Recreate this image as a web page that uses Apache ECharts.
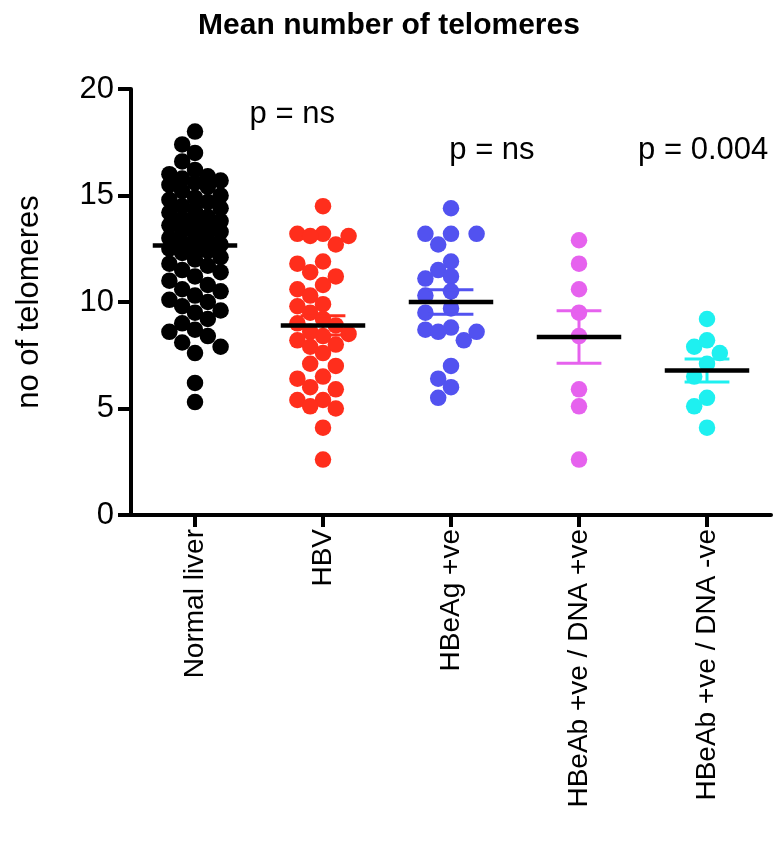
<!DOCTYPE html>
<html>
<head>
<meta charset="utf-8">
<script src="https://cdn.jsdelivr.net/npm/echarts@6/dist/echarts.min.js"></script>
<style>
html,body{margin:0;padding:0;background:#fff;}
#c{width:778px;height:852px;}
</style>
</head>
<body>
<div id="c"></div>
<script>
// ---------- data ----------
const categories = ['Normal liver', 'HBV', 'HBeAg +ve', 'HBeAb +ve / DNA +ve', 'HBeAb +ve / DNA -ve'];
const normalLiver = [18.0, 17.4, 17.0, 16.6, 16.2, 16.0, 15.9, 15.8, 15.7, 15.6, 15.5, 15.4, 15.2, 15.0, 14.9,
  14.8, 14.7, 14.5, 14.4, 14.3, 14.2, 14.0, 13.9, 13.8, 13.7, 13.6, 13.5, 13.4, 13.3, 13.2, 13.0, 12.9, 12.8,
  12.7, 12.6, 12.5, 12.4, 12.3, 12.1, 12.0, 11.8, 11.7, 11.5, 11.4, 11.2, 11.0, 10.8, 10.6, 10.5, 10.3, 10.1,
  10.0, 9.8, 9.6, 9.5, 9.2, 9.0, 8.7, 8.6, 8.4, 8.1, 7.9, 7.6, 6.2, 5.3];
const hbv = [14.5, 13.1, 13.2, 12.7, 13.2, 13.1, 11.9, 11.8, 11.4, 11.2, 10.8, 10.6, 10.3, 9.8, 9.9, 9.5, 9.2,
  9.0, 8.9, 8.6, 8.5, 8.4, 8.2, 8.0, 7.9, 7.6, 7.1, 7.0, 6.5, 6.4, 6.0, 5.9, 5.4, 5.4, 5.0, 5.1, 4.1, 2.6];
const hbeag = [14.4, 13.2, 13.2, 13.2, 12.7, 11.9, 11.5, 11.1, 11.2, 10.5, 10.3, 9.7, 9.5, 8.7, 8.2, 8.6, 8.8,
  8.6, 7.0, 6.4, 6.0, 5.5];
const hbeabDnaPos = [12.9, 11.8, 10.6, 9.5, 8.4, 5.9, 5.1, 2.6];
const hbeabDnaNeg = [9.2, 7.9, 8.2, 7.6, 7.1, 6.5, 5.5, 5.1, 4.1];
const groupMeans = [12.65, 8.9, 10.0, 8.36, 6.78];
const groupSems = [0.3, 0.45, 0.58, 1.23, 0.54];
const groupColors = ['#000000', '#FF2E1C', '#5252F0', '#E662EE', '#1EF0F0'];
const yTicks = [0, 5, 10, 15, 20];
const pLabels = ['p = ns', 'p = ns', 'p = 0.004'];
const pLabelX = [0.76, 2.32, 3.97];
const pLabelY = [18.8, 17.1, 17.1];

const groups = [normalLiver, hbv, hbeag, hbeabDnaPos, hbeabDnaNeg];

// ---------- layout ----------
const W = 778, H = 852;
const grid = { left: 131, right: 7, top: 89, bottom: 337 };
const plotW = W - grid.left - grid.right;
const plotH = H - grid.top - grid.bottom;
const yMax = yTicks[yTicks.length - 1];
const pyPerUnit = plotH / yMax;
const pxPerCat = plotW / categories.length;
const colStep = 12.8, minDist = 14, maxCol = 2;

// simple beeswarm: spread points horizontally (max +-2 columns)
function swarm(values) {
  const order = values.map((v, i) => i).sort((a, b) => values[b] - values[a]);
  const placed = [];
  const offs = new Array(values.length).fill(0);
  const cands = [0];
  for (let k = 1; k <= maxCol; k++) { cands.push(-k, k); }
  order.forEach(i => {
    const y = values[i] * pyPerUnit;
    let best = null, bestD = -1;
    for (const k of cands) {
      const x = k * colStep;
      let d = Infinity;
      placed.forEach(p => { d = Math.min(d, Math.hypot(p[0] - x, p[1] - y)); });
      if (d >= minDist) { best = k; break; }
      if (d > bestD + 0.5) { bestD = d; best = k; }
    }
    placed.push([best * colStep, y]);
    offs[i] = best * colStep / pxPerCat;
  });
  return offs;
}

const FONT = 'Liberation Sans, Arial, sans-serif';

const series = [];
groups.forEach((vals, g) => {
  const offs = swarm(vals);
  series.push({
    type: 'scatter',
    xAxisIndex: 1,
    yAxisIndex: 0,
    symbol: 'circle',
    symbolSize: 16.5,
    itemStyle: { color: groupColors[g], opacity: 1 },
    emphasis: { disabled: true },
    z: 2,
    data: vals.map((v, i) => [g + offs[i], v])
  });
});

series.push({
  type: 'custom',
  xAxisIndex: 1,
  yAxisIndex: 0,
  z: 5,
  data: groupMeans.map((m, g) => [g, m, groupSems[g]]),
  renderItem: function (params, api) {
    const g = api.value(0), m = api.value(1), s = api.value(2);
    const c = api.coord([g, m]);
    const t = api.coord([g, m + s]);
    const b = api.coord([g, m - s]);
    const unit = api.size([1, 0])[0];
    const capHalf = unit * 0.175, meanHalf = unit * 0.33;
    const col = groupColors[g];
    return {
      type: 'group',
      children: [
        { type: 'line', shape: { x1: c[0], y1: t[1], x2: c[0], y2: b[1] }, style: { stroke: col, lineWidth: 3 } },
        { type: 'line', shape: { x1: c[0] - capHalf, y1: t[1], x2: c[0] + capHalf, y2: t[1] }, style: { stroke: col, lineWidth: 3 } },
        { type: 'line', shape: { x1: c[0] - capHalf, y1: b[1], x2: c[0] + capHalf, y2: b[1] }, style: { stroke: col, lineWidth: 3 } },
        { type: 'line', shape: { x1: c[0] - meanHalf, y1: c[1], x2: c[0] + meanHalf, y2: c[1] }, style: { stroke: '#000', lineWidth: 4.5 } }
      ]
    };
  }
});

const chart = echarts.init(document.getElementById('c'), null, { renderer: 'canvas' });
chart.setOption({
  animation: false,
  backgroundColor: '#fff',
  title: {
    text: 'Mean number of telomeres',
    left: 'center',
    top: 6,
    textStyle: { fontSize: 30, fontWeight: 'bold', color: '#000', fontFamily: FONT }
  },
  grid: { left: grid.left, right: grid.right, top: grid.top, bottom: grid.bottom, containLabel: false },
  xAxis: [
    {
      type: 'category',
      data: categories,
      boundaryGap: true,
      axisLine: { show: true, onZero: false, lineStyle: { color: '#000', width: 4 } },
      axisTick: { show: true, alignWithLabel: true, length: 12, lineStyle: { color: '#000', width: 4 } },
      axisLabel: { rotate: 90, fontSize: 28, color: '#000', margin: 14, fontFamily: FONT },
      splitLine: { show: false }
    },
    {
      type: 'value',
      min: -0.5,
      max: 4.5,
      show: false,
      splitLine: { show: false }
    }
  ],
  yAxis: [{
    type: 'value',
    min: 0,
    max: yMax,
    interval: 5,
    name: 'no of telomeres',
    nameLocation: 'middle',
    nameRotate: 90,
    nameGap: 86,
    nameTextStyle: { fontSize: 31, color: '#000', fontFamily: FONT },
    axisLine: { show: true, onZero: false, lineStyle: { color: '#000', width: 4 } },
    axisTick: { show: true, length: 13, lineStyle: { color: '#000', width: 4 } },
    axisLabel: { fontSize: 31, color: '#000', margin: 17, fontFamily: FONT },
    splitLine: { show: false }
  }],
  series: series
});

// p-value annotations placed at data coordinates
const pGraphics = pLabels.map((t, i) => {
  const p = chart.convertToPixel({ xAxisIndex: 1, yAxisIndex: 0 }, [pLabelX[i], pLabelY[i]]);
  return {
    type: 'text', x: p[0], y: p[1], z: 10,
    style: { text: t, fill: '#000', font: '31px ' + FONT, textAlign: 'center', textVerticalAlign: 'middle' }
  };
});
chart.setOption({ graphic: pGraphics });
</script>
</body>
</html>
